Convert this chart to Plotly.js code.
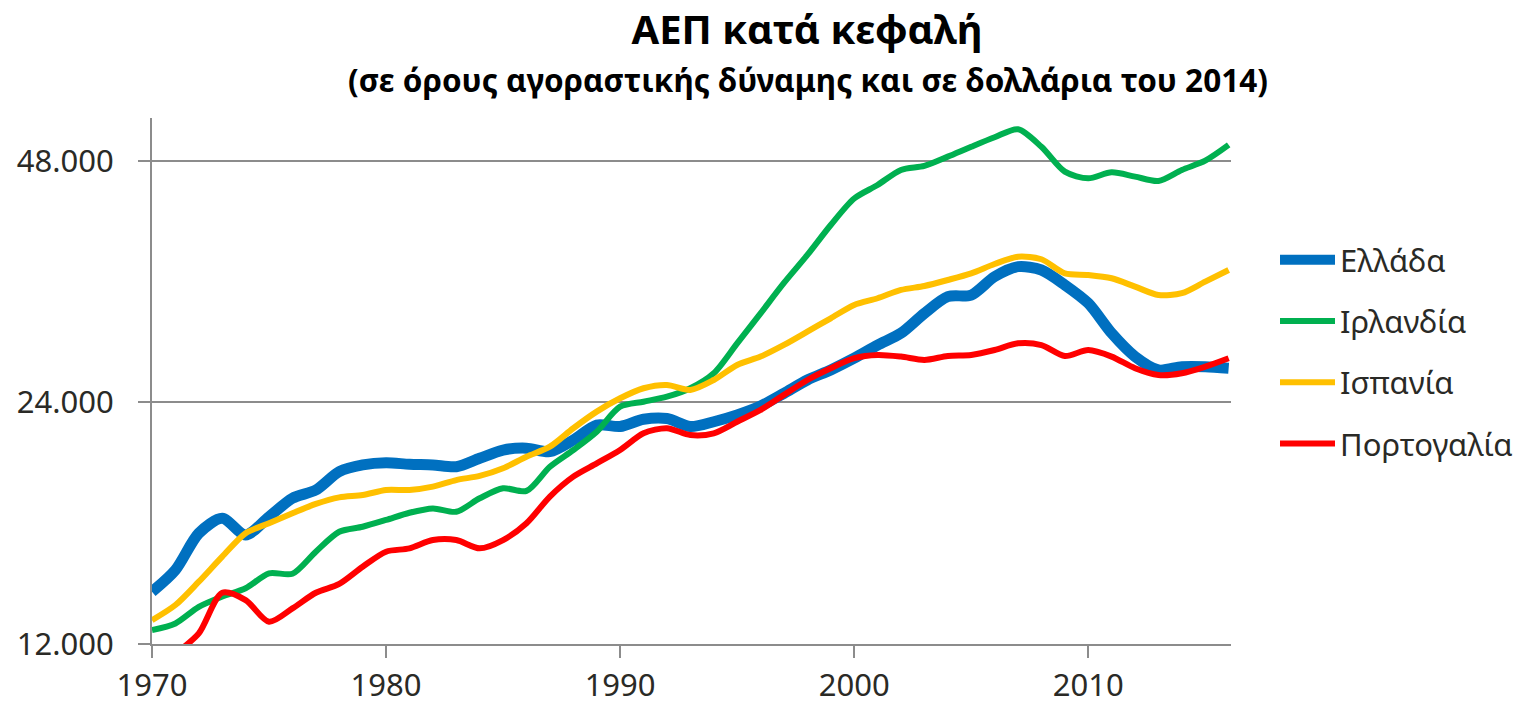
<!DOCTYPE html>
<html>
<head>
<meta charset="utf-8">
<script src="https://cdn.plot.ly/plotly-3.0.1.min.js"></script>
<style>html,body{margin:0;padding:0;background:#fff;}#chart{width:1523px;height:706px;}</style>
</head>
<body>
<div id="chart"></div>
<script>
const years = [1970,1971,1972,1973,1974,1975,1976,1977,1978,1979,1980,1981,1982,1983,1984,1985,1986,1987,1988,1989,1990,1991,1992,1993,1994,1995,1996,1997,1998,1999,2000,2001,2002,2003,2004,2005,2006,2007,2008,2009,2010,2011,2012,2013,2014,2015,2016];

const greece = [13940,14840,16490,17210,16410,17290,18230,18670,19680,20060,20190,20100,20060,19960,20450,20940,21050,20840,21550,22500,22400,22870,22920,22400,22710,23160,23760,24640,25600,26350,27250,28300,29280,31000,32520,32670,34440,35440,35100,33630,31910,29280,27380,26350,26600,26600,26480];

const ireland = [12490,12730,13350,13750,14080,14700,14680,15640,16560,16800,17130,17490,17710,17540,18230,18760,18620,19960,20940,22070,23710,24050,24400,25000,26100,28440,31000,33820,36650,39940,43100,44800,46780,47320,48600,50000,51380,52580,50000,46550,45670,46460,45890,45330,46780,48040,50260];

const spain = [12850,13420,14350,15420,16490,16970,17460,17940,18280,18400,18670,18670,18850,19210,19440,19870,20540,21140,22290,23380,24290,25000,25240,24880,25600,26730,27380,28310,29410,30560,31750,32370,33150,33530,34110,34770,35710,36470,36200,34770,34610,34280,33470,32670,32840,33950,35100];

const portugal = [11000,11660,12370,13900,13610,12790,13290,13900,14260,14980,15640,15790,16170,16170,15790,16170,16970,18320,19400,20150,20940,21970,22290,21860,21970,22710,23490,24530,25600,26480,27250,27510,27380,27120,27430,27510,27900,28440,28300,27430,27900,27380,26480,25970,26100,26600,27250];

const seriesNames = ['Ελλάδα','Ιρλανδία','Ισπανία','Πορτογαλία'];
const seriesColors = ['#0070C0','#00B050','#FFC000','#FF0000'];
const seriesWidths = [11,6,6,6];
const seriesData = [greece, ireland, spain, portugal];

const yTickVals = [12000,24000,48000];
const yTickText = ['12.000','24.000','48.000'];
const xTickVals = [1970,1980,1990,2000,2010];

const titleText = 'ΑΕΠ κατά κεφαλή';
const subtitleText = '(σε όρους αγοραστικής δύναμης και σε δολλάρια του 2014)';

const FONT = 'Noto Sans, Open Sans, DejaVu Sans, sans-serif';
const TXT = '#2a2a26';

const traces = seriesData.map((d, i) => ({
  x: years, y: d, type: 'scatter', mode: 'lines',
  name: seriesNames[i], legendgroup: 'g' + i,
  line: {color: seriesColors[i], width: seriesWidths[i], shape: 'spline', smoothing: 0.8},
  cliponaxis: true
}));

const layout = {
  width: 1523, height: 706,
  margin: {l: 152, r: 292, t: 118, b: 62},
  paper_bgcolor: '#fff', plot_bgcolor: '#fff',
  font: {family: FONT, color: TXT, size: 31},
  title: {
    text: '<b>' + titleText + '</b>',
    font: {family: FONT, size: 40, color: '#000'},
    x: 807/1523, xanchor: 'center', xref: 'container',
    y: 1 - 30/706, yanchor: 'middle', yref: 'container'
  },
  annotations: [{
    text: '<b>' + subtitleText + '</b>',
    xref: 'paper', yref: 'paper',
    x: (808-152)/1079, y: 1 + (118-80)/526,
    xanchor: 'center', yanchor: 'middle', showarrow: false,
    font: {family: FONT, size: 31.5, color: '#000'}
  }],
  xaxis: {
    range: [1970, 2016.1], tickvals: xTickVals,
    showgrid: false, zeroline: false,
    showline: true, linecolor: '#8c8c8c', linewidth: 2,
    ticks: 'outside', ticklen: 12, tickcolor: '#8c8c8c', tickwidth: 2,
    tickfont: {family: FONT, size: 31, color: TXT},
    ticklabelstandoff: 1,
    automargin: false
  },
  yaxis: {
    type: 'log',
    range: [Math.log10(12000), Math.log10(54300)],
    tickvals: yTickVals, ticktext: yTickText,
    showgrid: true, gridcolor: '#8c8c8c', gridwidth: 2,
    zeroline: false,
    showline: true, linecolor: '#8c8c8c', linewidth: 2,
    ticks: 'outside', ticklen: 12, tickcolor: '#8c8c8c', tickwidth: 2,
    tickfont: {family: FONT, size: 31, color: TXT},
    ticklabelstandoff: 18,
    automargin: false
  },
  showlegend: true,
  legend: {
    xref: 'container', yref: 'container',
    x: 1275/1523, xanchor: 'left',
    y: 1 - 233/706, yanchor: 'top',
    font: {family: FONT, size: 31, color: TXT},
    bgcolor: 'rgba(0,0,0,0)',
    itemwidth: 55,
    tracegroupgap: 18,
    traceorder: 'grouped'
  }
};

Plotly.newPlot('chart', traces, layout, {displayModeBar: false, staticPlot: true});
</script>
</body>
</html>
